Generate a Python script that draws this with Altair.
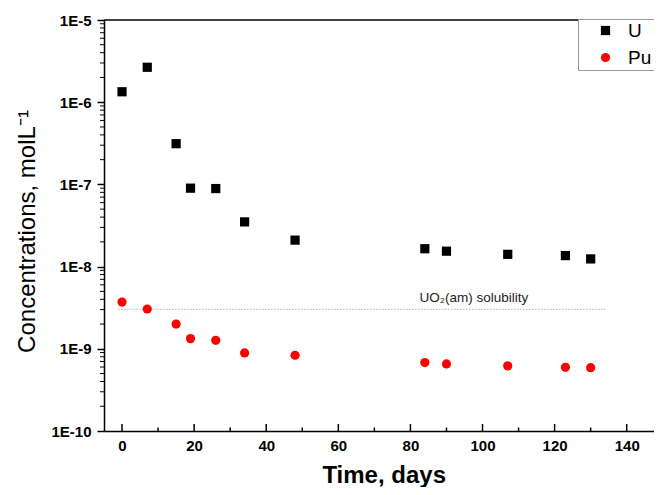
import altair as alt
import pandas as pd

# ---- data ----
days = [0, 7, 15, 19, 26, 34, 48, 84, 90, 107, 123, 130]
u_conc = [1.34e-6, 2.66e-6, 3.13e-7, 9.0e-8, 8.9e-8, 3.5e-8, 2.1e-8,
          1.65e-8, 1.54e-8, 1.41e-8, 1.36e-8, 1.24e-8]
pu_conc = [3.7e-9, 3.05e-9, 2.0e-9, 1.33e-9, 1.27e-9, 8.9e-10, 8.35e-10,
           6.8e-10, 6.55e-10, 6.2e-10, 5.95e-10, 5.9e-10]
species = ["U", "Pu"]
colors = ["#000000", "#ff0000"]
shapes = ["square", "circle"]

x_labels = [0, 20, 40, 60, 80, 100, 120, 140]
x_minor = [10, 30, 50, 70, 90, 110, 130]
y_major = [1e-10, 1e-9, 1e-8, 1e-7, 1e-6, 1e-5]
y_minor = [m * 10.0 ** e for e in range(-10, -5) for m in range(2, 10)]

sol_value = 3.02e-9
sol_start, sol_end = -1, 134
sol_label = "UO\u2082(am) solubility"
sol_label_day = 97.6

W, H = 550, 411
FONT = "Liberation Sans"

df = pd.DataFrame({
    "day": days + days,
    "conc": u_conc + pu_conc,
    "species": ["U"] * len(days) + ["Pu"] * len(days),
})

xscale = alt.Scale(domain=[-5, 147.57], nice=False, zero=False)
yscale = alt.Scale(type="log", domain=[1e-10, 1e-5], nice=False)

xaxis = alt.Axis(
    values=x_labels, title="Time, days", ticks=False, tickSize=0,
    labelPadding=7, labelFont=FONT, labelFontSize=15, labelFontWeight="bold",
    labelColor="black", domainColor="black", domainWidth=1.5, grid=False,
    titleFont=FONT, titleFontSize=24, titleFontWeight="bold", titleColor="black",
    titleX=279.7, titleY=51, titleBaseline="alphabetic")
yaxis = alt.Axis(
    values=y_major, labelExpr="'1E' + round(log(datum.value)/LN10)",
    tickSize=7, tickWidth=1.5, tickColor="black", labelPadding=6,
    labelFont=FONT, labelFontSize=15, labelFontWeight="bold", labelColor="black",
    domainColor="black", domainWidth=1.5, grid=False,
    title="Concentrations, molL\u207b\u00b9", titleFont=FONT, titleFontSize=24,
    titleFontWeight="normal", titleColor="black", titleX=-77, titleY=211,
    titleBaseline="middle")

leg = alt.Legend(title=None, orient="none", legendX=474, legendY=-1,
                 fillColor="white", strokeColor="#999999", padding=2,
                 symbolOffset=16, labelOffset=13, labelFontSize=19,
                 labelFont=FONT, labelColor="black", symbolSize=85,
                 rowPadding=7, symbolStrokeWidth=0)

points = alt.Chart(df).mark_point(filled=True, opacity=1, size=85).encode(
    x=alt.X("day:Q", scale=xscale, axis=xaxis),
    y=alt.Y("conc:Q", scale=yscale, axis=yaxis),
    color=alt.Color("species:N", scale=alt.Scale(domain=species, range=colors), legend=leg),
    shape=alt.Shape("species:N", scale=alt.Scale(domain=species, range=shapes), legend=leg),
)

df_sol = pd.DataFrame({"day": [sol_start], "day2": [sol_end], "conc": [sol_value],
                       "label": [sol_label], "lday": [sol_label_day]})
sol_line = alt.Chart(df_sol).mark_rule(strokeDash=[1, 2], color="#888888", strokeWidth=1).encode(
    x=alt.X("day:Q", scale=xscale, axis=xaxis), x2="day2:Q",
    y=alt.Y("conc:Q", scale=yscale, axis=yaxis))
sol_text = alt.Chart(df_sol).mark_text(font=FONT, fontSize=13.5, baseline="alphabetic",
                                       align="center", dy=-7, color="#222222").encode(
    x=alt.X("lday:Q", scale=xscale, axis=xaxis),
    y=alt.Y("conc:Q", scale=yscale, axis=yaxis), text="label:N")

xmaj = alt.Chart(pd.DataFrame({"day": x_labels})).mark_rule(color="black", strokeWidth=1.5).encode(
    x=alt.X("day:Q", scale=xscale, axis=xaxis), y=alt.value(H), y2=alt.value(H - 7))
xmin = alt.Chart(pd.DataFrame({"day": x_minor})).mark_rule(color="black", strokeWidth=1.5).encode(
    x=alt.X("day:Q", scale=xscale, axis=xaxis), y=alt.value(H), y2=alt.value(H - 3.5))
ymin = alt.Chart(pd.DataFrame({"conc": y_minor})).mark_rule(color="black", strokeWidth=1).encode(
    y=alt.Y("conc:Q", scale=yscale, axis=yaxis), x=alt.value(-4), x2=alt.value(0))
top = alt.Chart(pd.DataFrame({"k": [0]})).mark_rule(color="black", strokeWidth=1.5).encode(
    x=alt.value(0), x2=alt.value(W), y=alt.value(0))

chart = alt.layer(top, xmaj, xmin, ymin, sol_line, sol_text, points).properties(
    width=W, height=H,
    padding={"left": 96, "top": 12, "right": 0, "bottom": 56},
    autosize=alt.AutoSizeParams(type="none"),
    background="white",
).configure_view(stroke=None)

chart.save("out.html", embed_options={"renderer": "svg", "actions": False})
